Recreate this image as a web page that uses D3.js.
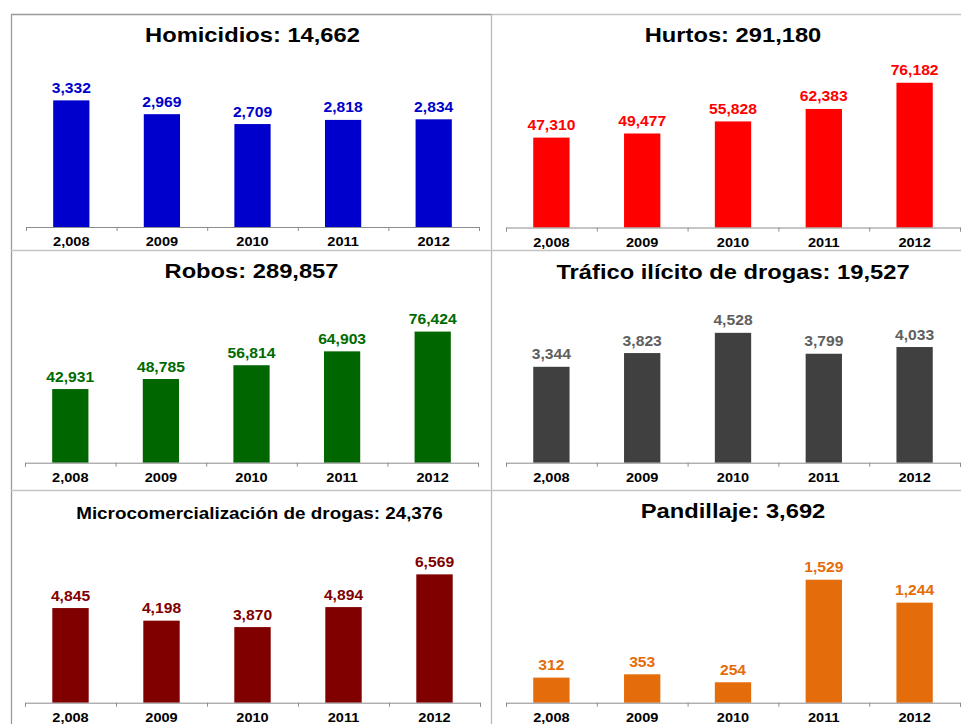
<!DOCTYPE html>
<html>
<head>
<meta charset="utf-8">
<script src="https://cdn.jsdelivr.net/npm/d3@7"></script>
<style>
  body { margin: 0; background: #fff; }
  svg { display: block; }
  text { font-family: "Liberation Sans", Arial, Helvetica, sans-serif; font-weight: bold; }
</style>
</head>
<body>
<svg id="chart" width="961" height="724"></svg>
<script>
// Tick labels (years) shared by every panel
const years = ["2,008", "2009", "2010", "2011", "2012"];

// Crime categories, one panel each
const crimes = ["Homicidios", "Hurtos", "Robos", "Tráfico ilícito de drogas",
                "Microcomercialización de drogas", "Pandillaje"];

// Yearly counts per category
const homicidios = [3332, 2969, 2709, 2818, 2834];
const hurtos     = [47310, 49477, 55828, 62383, 76182];
const robos      = [42931, 48785, 56814, 64903, 76424];
const trafico    = [3344, 3823, 4528, 3799, 4033];
const micro      = [4845, 4198, 3870, 4894, 6569];
const pandillaje = [312, 353, 254, 1529, 1244];

const series = [homicidios, hurtos, robos, trafico, micro, pandillaje];

// Panel layout and styling
const layout = [
  { x0: 26,  x1: 479, axisY: 227,   titleY: 42,    titleDx: 0, titleSize: 21,   yMax: 4000,  bar: "#0000CC", label: "#0000CC" },
  { x0: 506, x1: 960, axisY: 227.5, titleY: 42,    titleDx: 0, titleSize: 21,   yMax: 80000, bar: "#FF0000", label: "#FF0000" },
  { x0: 25,  x1: 478, axisY: 462.7, titleY: 277.7, titleDx: 0, titleSize: 21,   yMax: 88600, bar: "#006600", label: "#006A00" },
  { x0: 506, x1: 960, axisY: 462.7, titleY: 279,   titleDx: 0, titleSize: 21,   yMax: 5300,  bar: "#404040", label: "#5F5F5F" },
  { x0: 25,  x1: 480, axisY: 702.7, titleY: 519,   titleDx: 7, titleSize: 16.7, yMax: 7780,  bar: "#800000", label: "#800000" },
  { x0: 506, x1: 960, axisY: 702.7, titleY: 517.7, titleDx: 0, titleSize: 21,   yMax: 1890,  bar: "#E46C0A", label: "#E46C0A" }
];

const PLOT_H = 152;      // height of the value range inside a panel
const STRETCH = 1.12;    // horizontal widening of the bold lettering
const fmt = d3.format(",");

const svg = d3.select("#chart");

// Panel frame lines
const frame = svg.append("g").attr("fill", "none").attr("stroke-width", 1.3);
frame.append("line").attr("x1", 11).attr("x2", 492).attr("y1", 14.5).attr("y2", 14.5).attr("stroke", "#9a9a9a");
frame.append("line").attr("x1", 492).attr("x2", 961).attr("y1", 14.5).attr("y2", 14.5).attr("stroke", "#c4c4c4");
frame.append("line").attr("x1", 11.5).attr("x2", 11.5).attr("y1", 14).attr("y2", 724).attr("stroke", "#9a9a9a");
frame.append("line").attr("x1", 491.5).attr("x2", 491.5).attr("y1", 14).attr("y2", 724).attr("stroke", "#b8b8b8");
frame.append("line").attr("x1", 11).attr("x2", 961).attr("y1", 250.5).attr("y2", 250.5).attr("stroke", "#c4c4c4");
frame.append("line").attr("x1", 11).attr("x2", 961).attr("y1", 490.5).attr("y2", 490.5).attr("stroke", "#c4c4c4");

series.forEach((values, i) => {
  const L = layout[i];
  const g = svg.append("g");

  const x = d3.scaleBand()
    .domain(years)
    .range([L.x0, L.x1])
    .paddingInner(0.6)
    .paddingOuter(0.3);

  const y = d3.scaleLinear()
    .domain([0, L.yMax])
    .range([L.axisY, L.axisY - PLOT_H]);

  const rows = years.map((yr, k) => ({ year: yr, value: values[k] }));

  // Title with the period total
  g.append("text")
    .attr("transform", `translate(${(L.x0 + L.x1) / 2 + L.titleDx},${L.titleY}) scale(1.13,1)`)
    .attr("text-anchor", "middle")
    .attr("font-size", L.titleSize)
    .attr("fill", "#000")
    .text(`${crimes[i]}: ${fmt(d3.sum(values))}`);

  // Bars
  g.selectAll("rect.bar")
    .data(rows)
    .join("rect")
    .attr("class", "bar")
    .attr("x", d => x(d.year))
    .attr("width", x.bandwidth())
    .attr("y", d => y(d.value))
    .attr("height", d => y(0) - y(d.value))
    .attr("fill", L.bar);

  // Value labels above the bars
  g.selectAll("text.val")
    .data(rows)
    .join("text")
    .attr("class", "val")
    .attr("transform", d => `translate(${x(d.year) + x.bandwidth() / 2},${y(d.value) - 7.5}) scale(${STRETCH},1)`)
    .attr("text-anchor", "middle")
    .attr("font-size", 14)
    .attr("fill", L.label)
    .text(d => fmt(d.value));

  // Category boundary ticks and baseline
  const edges = d3.scaleLinear().domain([0, years.length]).range([L.x0, L.x1]);
  const tickAxis = g.append("g")
    .attr("transform", `translate(0,${L.axisY})`)
    .call(d3.axisBottom(edges).ticks(years.length).tickSize(4).tickSizeOuter(4).tickFormat(""));
  tickAxis.selectAll("path, line").attr("stroke", "#8c8c8c");

  // Year labels
  const labelAxis = g.append("g")
    .attr("transform", `translate(0,${L.axisY})`)
    .call(d3.axisBottom(x).tickSize(0).tickPadding(10));
  labelAxis.select(".domain").remove();
  labelAxis.selectAll("text")
    .attr("transform", `scale(${STRETCH},1)`)
    .attr("font-size", 13)
    .attr("font-family", "'Liberation Sans', Arial, sans-serif")
    .attr("font-weight", "bold")
    .attr("fill", "#000");
});
</script>
</body>
</html>
